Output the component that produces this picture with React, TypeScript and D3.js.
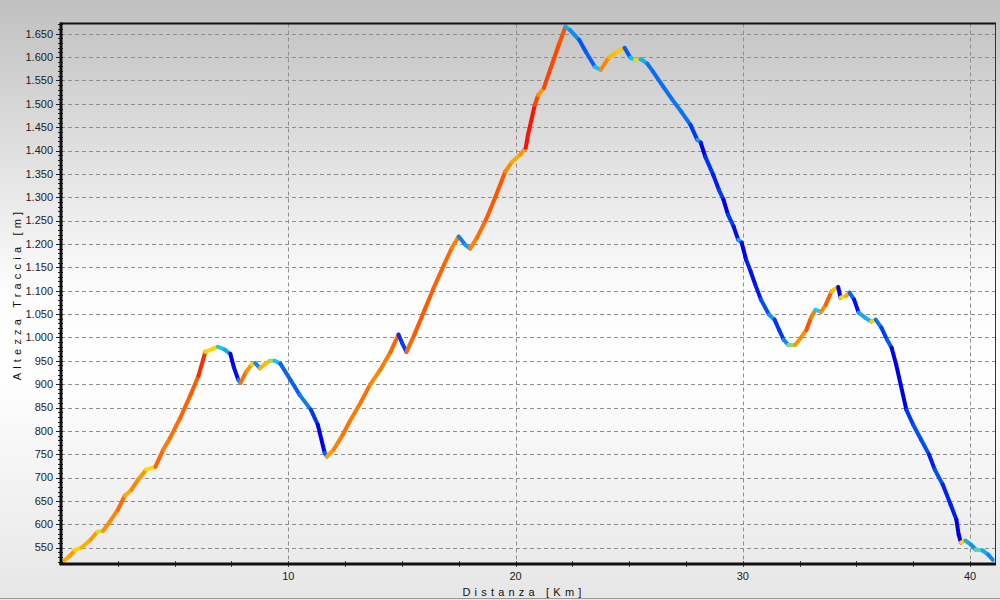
import { useRef, useEffect } from 'react';
import * as d3 from 'd3';

const WIDTH = 1000;
const HEIGHT = 600;
const PLOT = { left: 61, right: 995, top: 23.5, bottom: 564 };

// distance along the track [km]
const DIST = [
  0.05, 0.4, 0.6, 0.9, 1.3, 1.6, 1.85, 2.15, 2.5, 2.8, 3.1, 3.4, 3.75, 4.15, 4.5, 4.8,
  5.25, 5.7, 6.05, 6.35, 6.7, 6.9, 7.2, 7.45, 7.6, 7.8, 7.9, 8.15, 8.4, 8.55, 8.75, 8.95,
  9.2, 9.4, 9.65, 10.1, 10.5, 11.0, 11.3, 11.6, 11.7, 12.0, 12.4, 12.7, 13.2, 13.6, 14.05,
  14.5, 14.85, 15.0, 15.2, 15.55, 16.0, 16.4, 16.85, 17.2, 17.5, 17.8, 18.0, 18.3, 18.7,
  19.1, 19.55, 19.85, 20.2, 20.45, 20.55, 20.85, 21.0, 21.25, 21.55, 21.9, 22.2, 22.4,
  22.8, 23.1, 23.5, 23.75, 24.1, 24.45, 24.8, 25.05, 25.25, 25.5, 25.8, 26.05, 26.5, 26.9,
  27.3, 27.7, 28.0, 28.15, 28.35, 28.7, 28.95, 29.15, 29.35, 29.6, 29.8, 29.95, 30.15,
  30.35, 30.55, 30.8, 31.15, 31.4, 31.6, 31.8, 32.0, 32.3, 32.55, 32.8, 33.0, 33.2, 33.45,
  33.65, 33.9, 34.0, 34.2, 34.3, 34.55, 34.7, 34.9, 35.1, 35.4, 35.65, 35.85, 36.1, 36.35,
  36.55, 36.75, 36.95, 37.2, 37.5, 37.85, 38.2, 38.45, 38.8, 39.15, 39.4, 39.5, 39.6, 39.8,
  40.05, 40.25, 40.55, 40.8, 41.0,
];

// elevation [m]
const ELEV = [
  518, 533, 544, 550, 567, 584, 586, 606, 631, 661, 674, 696, 717, 723, 760, 785,
  828, 877, 918, 969, 976, 980, 974, 965, 937, 909, 903, 927, 942, 945, 934, 942,
  950, 950, 944, 909, 877, 845, 813, 753, 745, 760, 792, 820, 862, 899, 931,
  969, 1006, 989, 969, 1006, 1059, 1106, 1155, 1192, 1216, 1198, 1190, 1213, 1252,
  1299, 1355, 1376, 1391, 1406, 1434, 1498, 1519, 1534, 1577, 1626, 1665, 1658,
  1637, 1611, 1579, 1573, 1599, 1611, 1620, 1599, 1594, 1596, 1586, 1569, 1537, 1509,
  1483, 1455, 1423, 1417, 1387, 1348, 1316, 1295, 1263, 1237, 1209, 1203, 1166,
  1141, 1113, 1081, 1049, 1038, 1016, 995, 984, 984, 999, 1016, 1042, 1059, 1055,
  1070, 1098, 1102, 1108, 1085, 1089, 1096, 1081, 1053, 1042, 1034, 1038, 1021, 995,
  978, 942, 899, 845, 813, 781, 749, 717, 685, 642, 610, 578, 561, 565,
  556, 546, 544, 535, 524,
];

const Y_TICKS = d3.range(550, 1651, 50);
const X_TICKS = [10, 20, 30, 40];

// slope [m/m] -> colour
const SLOPE_STOPS = [-0.15, -0.1, -0.05, -0.012, 0.012, 0.05, 0.1, 0.2];
const SLOPE_COLORS = ['#0000ee', '#0040f8', '#1090f0', '#20d0f0', '#ffe000', '#ffa000', '#ff6a00', '#ff1000'];

const locale = d3.formatLocale({ decimal: ',', thousands: '.', grouping: [3], currency: ['', ''] });
const fmt = locale.format(',d');

export default function App() {
  const svgRef = useRef<SVGSVGElement>(null);

  useEffect(() => {
    if (!svgRef.current) return;
    const svg = d3.select(svgRef.current);
    svg.selectAll('*').remove();

    const x = d3.scaleLinear().domain([0, 41.1]).range([PLOT.left, PLOT.right]);
    const y = d3.scaleLinear().domain([515, 1672]).range([PLOT.bottom, PLOT.top]);
    const color = d3.scaleLinear<string>().domain(SLOPE_STOPS).range(SLOPE_COLORS).clamp(true);

    // background
    const grad = svg.append('defs').append('linearGradient')
      .attr('id', 'bg').attr('x1', 0).attr('y1', 0).attr('x2', 0).attr('y2', 1);
    grad.append('stop').attr('offset', '0%').attr('stop-color', '#c0c0c0');
    grad.append('stop').attr('offset', '48%').attr('stop-color', '#fcfcfc');
    grad.append('stop').attr('offset', '62%').attr('stop-color', '#ffffff');
    grad.append('stop').attr('offset', '100%').attr('stop-color', '#e6e6e6');
    svg.append('rect').attr('width', WIDTH).attr('height', HEIGHT).attr('fill', 'url(#bg)');
    svg.append('line').attr('x1', 0).attr('x2', WIDTH).attr('y1', 598.5).attr('y2', 598.5)
      .attr('stroke', '#9a9a9a').attr('stroke-width', 1);

    // grid
    const grid = svg.append('g').attr('stroke', '#8e8e8e').attr('stroke-width', 1)
      .attr('stroke-dasharray', '4,3');
    grid.selectAll('line.h').data(Y_TICKS).enter().append('line').attr('class', 'h')
      .attr('x1', PLOT.left).attr('x2', PLOT.right)
      .attr('y1', d => Math.round(y(d)) + 0.5).attr('y2', d => Math.round(y(d)) + 0.5);
    grid.selectAll('line.v').data(X_TICKS).enter().append('line').attr('class', 'v')
      .attr('y1', PLOT.top).attr('y2', PLOT.bottom)
      .attr('x1', d => Math.round(x(d)) + 0.5).attr('x2', d => Math.round(x(d)) + 0.5);

    // profile, one segment per pair, coloured by slope
    const segs = d3.range(DIST.length - 1).map(i => ({
      x0: DIST[i], y0: ELEV[i], x1: DIST[i + 1], y1: ELEV[i + 1],
      slope: (ELEV[i + 1] - ELEV[i]) / ((DIST[i + 1] - DIST[i]) * 1000),
    }));
    svg.append('g').selectAll('line').data(segs).enter().append('line')
      .attr('x1', d => x(d.x0)).attr('y1', d => y(d.y0))
      .attr('x2', d => x(d.x1)).attr('y2', d => y(d.y1))
      .attr('stroke', d => color(d.slope))
      .attr('stroke-width', 4)
      .attr('stroke-linecap', 'round');

    // frame
    svg.append('line').attr('x1', PLOT.left - 1).attr('x2', PLOT.right + 1)
      .attr('y1', PLOT.top).attr('y2', PLOT.top).attr('stroke', '#111').attr('stroke-width', 2);
    svg.append('line').attr('x1', PLOT.right + 0.5).attr('x2', PLOT.right + 0.5)
      .attr('y1', PLOT.top).attr('y2', PLOT.bottom).attr('stroke', '#333').attr('stroke-width', 1);

    // y axis
    const yAxis = svg.append('g');
    yAxis.selectAll('line.minor').data(d3.range(520, 1671, 10)).enter().append('line')
      .attr('x1', PLOT.left - 3).attr('x2', PLOT.left + 2)
      .attr('y1', d => Math.round(y(d)) + 0.5).attr('y2', d => Math.round(y(d)) + 0.5)
      .attr('stroke', '#222').attr('stroke-width', 1);
    yAxis.selectAll('line.major').data(Y_TICKS).enter().append('line')
      .attr('x1', PLOT.left - 5).attr('x2', PLOT.left)
      .attr('y1', d => Math.round(y(d)) + 0.5).attr('y2', d => Math.round(y(d)) + 0.5)
      .attr('stroke', '#222').attr('stroke-width', 1);
    yAxis.selectAll('text').data(Y_TICKS).enter().append('text')
      .attr('x', 53).attr('y', d => y(d)).attr('dy', '0.35em')
      .attr('text-anchor', 'end').attr('font-family', 'Liberation Sans, Arial, sans-serif')
      .attr('font-size', 11).attr('fill', '#222')
      .text(d => fmt(d));
    svg.append('line').attr('x1', PLOT.left).attr('x2', PLOT.left)
      .attr('y1', PLOT.top - 1).attr('y2', PLOT.bottom + 1).attr('stroke', '#111').attr('stroke-width', 3);

    // x axis
    const xAxis = svg.append('g');
    xAxis.selectAll('line').data(d3.range(2.5, 41, 2.5)).enter().append('line')
      .attr('x1', d => Math.round(x(d)) + 0.5).attr('x2', d => Math.round(x(d)) + 0.5)
      .attr('y1', PLOT.bottom - 3).attr('y2', PLOT.bottom + 3)
      .attr('stroke', '#444').attr('stroke-width', 1);
    xAxis.selectAll('text').data(X_TICKS).enter().append('text')
      .attr('x', d => x(d)).attr('y', 580)
      .attr('text-anchor', 'middle').attr('font-family', 'Liberation Sans, Arial, sans-serif')
      .attr('font-size', 11).attr('fill', '#222')
      .text(d => d);
    svg.append('line').attr('x1', PLOT.left - 1.5).attr('x2', PLOT.right + 1)
      .attr('y1', PLOT.bottom).attr('y2', PLOT.bottom).attr('stroke', '#111').attr('stroke-width', 3);

    // titles
    svg.append('text')
      .attr('x', 524).attr('y', 596)
      .attr('text-anchor', 'middle').attr('font-family', 'Liberation Sans, Arial, sans-serif')
      .attr('font-size', 11).attr('letter-spacing', 4.2).attr('fill', '#111')
      .text('Distanza [Km]');
    svg.append('text')
      .attr('transform', 'translate(21,294) rotate(-90)')
      .attr('text-anchor', 'middle').attr('font-family', 'Liberation Sans, Arial, sans-serif')
      .attr('font-size', 11).attr('letter-spacing', 4.2).attr('fill', '#111')
      .text('Altezza Traccia [m]');
  }, []);

  return (
    <svg ref={svgRef} width={WIDTH} height={HEIGHT}
      style={{ position: 'absolute', left: 0, top: 0, display: 'block' }} />
  );
}
